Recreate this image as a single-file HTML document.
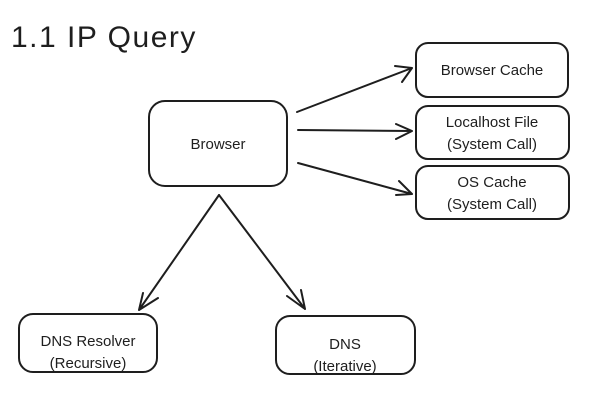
<!DOCTYPE html>
<html><head><style>
html,body{margin:0;padding:0;background:#fff;}
svg{display:block;}
text{font-family:"Liberation Sans",sans-serif;fill:#1e1e1e;}
</style></head><body>
<svg width="602" height="405" viewBox="0 0 602 405" xmlns="http://www.w3.org/2000/svg">
<rect width="602" height="405" fill="#fff"/>
<text x="11" y="47" font-size="30" letter-spacing="1.5">1.1 IP Query</text>
<g fill="none" stroke="#1e1e1e" stroke-width="2" stroke-linecap="round" stroke-linejoin="round">
<rect x="149" y="101" width="138" height="85" rx="16"/>
<rect x="416" y="43" width="152" height="54" rx="12"/>
<rect x="416" y="106" width="153" height="53" rx="12"/>
<rect x="416" y="166" width="153" height="53" rx="12"/>
<rect x="19" y="314" width="138" height="58" rx="14"/>
<rect x="276" y="316" width="139" height="58" rx="14"/>
<path d="M297 112 L412 68 M395 66 L412 68 L402 82"/>
<path d="M298 130 L412 131 M396 124 L412 131 L396 139"/>
<path d="M298 163 L412 194 M399 181 L412 194 L396 195"/>
<path d="M219 195 L139 310 M143 293 L139 310 L158 298"/>
<path d="M219 195 L305 309 M287 296 L305 309 L301 290"/>
</g>
<g font-size="15" text-anchor="middle">
<text x="218" y="149">Browser</text>
<text x="492" y="75">Browser Cache</text>
<text x="492" y="127">Localhost File</text>
<text x="492" y="149">(System Call)</text>
<text x="492" y="187">OS Cache</text>
<text x="492" y="209">(System Call)</text>
<text x="88" y="346">DNS Resolver</text>
<text x="88" y="368">(Recursive)</text>
<text x="345" y="349">DNS</text>
<text x="345" y="371">(Iterative)</text>
</g>
</svg>
</body></html>
